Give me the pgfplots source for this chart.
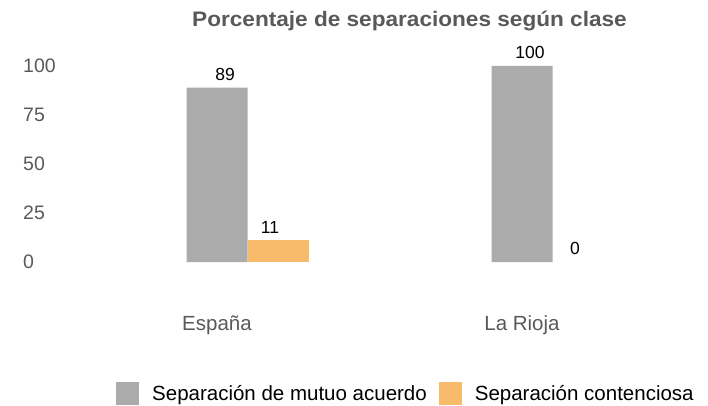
\documentclass[border=0pt]{standalone}
\usepackage{fontspec}
\setmainfont{Liberation Sans}
\usepackage{graphicx}
\usepackage{pgfplots}
\pgfplotsset{compat=1.18}
\definecolor{grisbar}{HTML}{ABABAB}
\definecolor{naranja}{HTML}{F8BB6C}
\definecolor{txtgris}{HTML}{595959}
\begin{document}
\begin{tikzpicture}
\begin{axis}[
  at={(0,0)}, anchor=south west,
  scale only axis, width=610pt, height=196pt,
  xmin=-2.5, xmax=7.5, ymin=0, ymax=100,
  axis line style={draw=none}, tick style={draw=none},
  clip=false,
  /pgf/number format/assume math mode=true,
  ytick={0,25,50,75,100},
  yticklabel style={anchor=west, inner sep=0pt, xshift=-41.5pt, text=txtgris, font=\fontsize{19.5}{22}\selectfont},
  xtick={0,5}, xticklabels={España, La Rioja},
  xticklabel style={anchor=base, inner sep=0pt, yshift=-64pt, text=txtgris, font=\fontsize{20.5}{24}\selectfont},
  ybar, bar width=1, bar shift=0pt,
  nodes near coords,
  every node near coord/.append style={font=\fontsize{17.5}{20}\selectfont, text=black, yshift=3.5pt},
  every axis title shift=0pt,
  title={\scalebox{1.076}[1]{\textbf{Porcentaje de separaciones según clase}}},
  title style={at={(0.5656,1.204)}, anchor=base, yshift=0pt, inner sep=0pt, text=txtgris, font=\fontsize{21}{24}\selectfont},
  legend columns=2,
  legend style={draw=none, fill=none, at={(0.0844,-0.671)}, anchor=west, inner sep=0pt,
    font=\fontsize{20.5}{24}\selectfont,
    /tikz/every odd column/.append style={column sep=11pt},
    /tikz/every even column/.append style={column sep=10pt}},
  legend cell align=left,
  legend image code/.code={\fill[#1] (0pt,-11.5pt) rectangle (23pt,11.5pt);},
]
\addplot[fill=grisbar, draw=none, every node near coord/.append style={xshift=8pt}] coordinates {(0,89) (5,100)};
\addplot[fill=naranja, draw=none, every node near coord/.append style={xshift=-8pt}] coordinates {(1,11)};
\addplot[fill=none, draw=none, forget plot, every node near coord/.append style={xshift=-8pt}] coordinates {(6,0)};
\legend{Separación de mutuo acuerdo, Separación contenciosa}
\end{axis}
\pgfresetboundingbox
\useasboundingbox (-64.5pt,-144pt) rectangle (643.5pt,262pt);
\end{tikzpicture}
\end{document}
